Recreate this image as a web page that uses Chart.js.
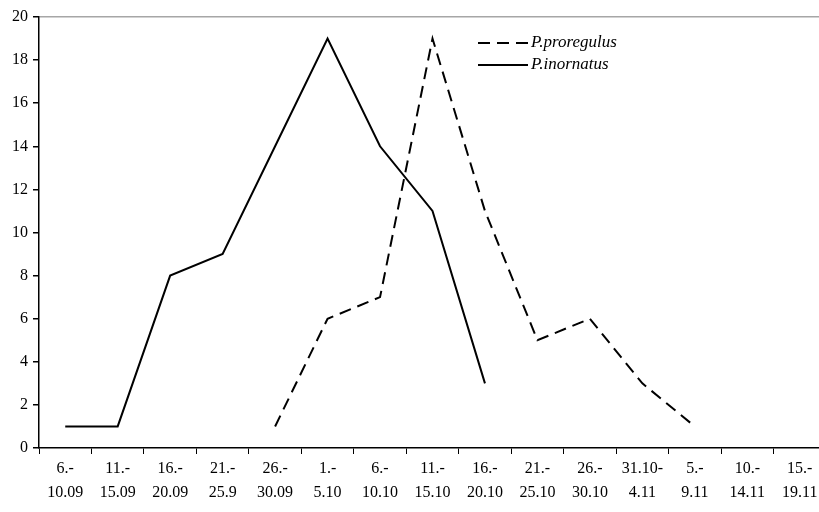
<!DOCTYPE html>
<html>
<head>
  <title>P. proregulus / P. inornatus</title>
  <script src="https://cdn.jsdelivr.net/npm/chart.js"></script>
  <style>
    body { margin: 0; background: #fff; overflow: hidden; }
    #wrap { width: 830px; height: 512px; position: relative; }
  </style>
</head>
<body>
  <div id="wrap"><canvas id="chart" width="830" height="512"></canvas></div>
  <script>
    // five-day periods, two-line labels
    const periods = [
      ['6.-', '10.09'], ['11.-', '15.09'], ['16.-', '20.09'], ['21.-', '25.9'], ['26.-', '30.09'],
      ['1.-', '5.10'], ['6.-', '10.10'], ['11.-', '15.10'], ['16.-', '20.10'], ['21.-', '25.10'],
      ['26.-', '30.10'], ['31.10-', '4.11'], ['5.-', '9.11'], ['10.-', '14.11'], ['15.-', '19.11']
    ];
    const proregulus = [null, null, null, null, 1, 6, 7, 19, 11, 5, 6, 3, 1, null, null];
    const inornatus = [1, 1, 8, 9, 14, 19, 14, 11, 3, null, null, null, null, null, null];
    const yTicks = [0, 2, 4, 6, 8, 10, 12, 14, 16, 18, 20];

    const FONT = "'Liberation Serif', 'DejaVu Serif', serif";

    // legend drawn inside the plot, like the original
    const innerLegend = {
      id: 'innerLegend',
      afterDraw(chart) {
        const c = chart.ctx;
        const items = [
          { label: 'P.proregulus', dash: [12, 7], y: 43 },
          { label: 'P.inornatus', dash: [], y: 65 }
        ];
        c.save();
        items.forEach(it => {
          c.beginPath();
          c.setLineDash(it.dash);
          c.lineWidth = 2;
          c.strokeStyle = '#000';
          c.moveTo(478, it.y);
          c.lineTo(528, it.y);
          c.stroke();
          c.setLineDash([]);
          c.fillStyle = '#000';
          c.font = "italic 17px " + FONT;
          c.textBaseline = 'middle';
          c.fillText(it.label, 531, it.y);
        });
        c.restore();
      }
    };

    new Chart(document.getElementById('chart'), {
      type: 'line',
      data: {
        labels: periods,
        datasets: [
          {
            label: 'P.proregulus',
            data: proregulus,
            borderColor: '#000',
            borderWidth: 2,
            borderDash: [12, 7],
            pointRadius: 0,
            tension: 0,
            fill: false
          },
          {
            label: 'P.inornatus',
            data: inornatus,
            borderColor: '#000',
            borderWidth: 2,
            pointRadius: 0,
            tension: 0,
            fill: false
          }
        ]
      },
      options: {
        responsive: false,
        animation: false,
        layout: { padding: { top: 17, right: 4, left: 0, bottom: 0 } },
        plugins: { legend: { display: false }, tooltip: { enabled: false } },
        scales: {
          x: {
            offset: true,
            grid: { offset: true, drawOnChartArea: false, drawTicks: true, tickLength: 6, tickColor: '#000' },
            border: { color: '#000', width: 1.5 },
            ticks: { color: '#000', font: { family: FONT, size: 16, lineHeight: 1.5 }, padding: 3, maxRotation: 0, autoSkip: false },
            afterFit: s => { s.height = 64; }
          },
          y: {
            min: 0,
            max: 20,
            afterBuildTicks: s => { s.ticks = yTicks.map(v => ({ value: v })); },
            grid: {
              color: ctx => (ctx.tick && ctx.tick.value === 20) ? '#a6a6a6' : 'rgba(0,0,0,0)',
              lineWidth: 1.5,
              tickColor: '#000',
              tickLength: 6
            },
            border: { color: '#000', width: 1.5 },
            ticks: { color: '#000', font: { family: FONT, size: 16 }, padding: 5 },
            afterFit: s => { s.width = 39; }
          }
        }
      },
      plugins: [innerLegend]
    });
  </script>
</body>
</html>
